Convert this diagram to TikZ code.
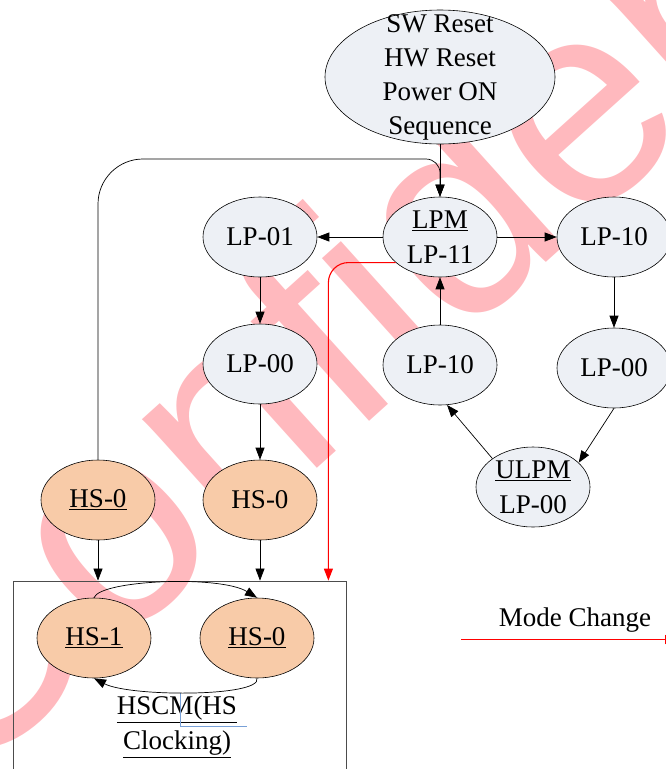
\documentclass[tikz,border=0pt]{standalone}
\usepackage{fontspec}
\setmainfont{Liberation Serif}
\newfontfamily\markfont{Liberation Sans}
\usetikzlibrary{arrows.meta,shapes.geometric,positioning}
\definecolor{StateFill}{RGB}{237,240,245}
\definecolor{HsFill}{RGB}{248,203,168}
\definecolor{MarkPink}{RGB}{255,185,190}
\definecolor{NoteBlue}{RGB}{120,160,215}
\tikzset{
  figure/.style={x=1pt,y=-1pt,font=\fontsize{27}{35}\selectfont,>={Triangle[length=12pt,width=9pt]}},
  lpstate/.style={ellipse,draw,line width=0.6pt,fill=StateFill,minimum width=114pt,minimum height=80pt,inner sep=0pt,inner ysep=-6pt,align=center},
  hsstate/.style={lpstate,fill=HsFill},
  flow/.style={->,line width=0.7pt},
  modeflow/.style={->,line width=1.1pt,draw=red,color=red},
}

\begin{document}
\begin{tikzpicture}[figure]
  \useasboundingbox (0,0) rectangle (665,769);

  % watermark
  \node[rotate=42,anchor=base west,inner sep=0pt,text=MarkPink,font=\markfont\fontsize{290}{290}\selectfont] (mark) at (-45,795) {Confidential};

  \node[lpstate,minimum width=230pt,minimum height=134pt,inner sep=-30pt,font=\fontsize{27}{34}\selectfont] (reset) at (440,77)
    {SW Reset\\HW Reset\\Power ON\\Sequence};

  \node[lpstate] (lpm) at (440,237) {\underline{LPM}\\LP-11};
  \node[lpstate] (lp01) at (260,237) {LP-01};
  \node[lpstate] (lp10r) at (614,237) {LP-10};
  \node[lpstate] (lp00l) at (260,364) {LP-00};
  \node[lpstate] (lp10m) at (440,365) {LP-10};
  \node[lpstate] (lp00r) at (614,368) {LP-00};
  \node[lpstate] (ulpm) at (533,487) {\underline{ULPM}\\LP-00};

  \node[hsstate] (hs0l) at (98,500) {\underline{HS-0}};
  \node[hsstate] (hs0m) at (260,500) {HS-0};

  \node[draw=black!70,line width=0.8pt,minimum width=333pt,minimum height=239pt,inner sep=0pt] (box) at (179.5,700.5) {};
  \node[hsstate] (hs1) at (94,638) {\underline{HS-1}};
  \node[hsstate] (hs0b) at (257,638) {\underline{HS-0}};
  \node[align=center] (hscm) at (177,727) {\underline{HSCM(HS}\\\underline{Clocking)}};
  \draw[NoteBlue,line width=0.6pt] (180,693) |- (247,726);

  \coordinate (looptop) at (300,159);
  \coordinate (modein) at ([xshift=-18pt]box.north east);

  \draw[flow] (reset) -- (lpm);
  \draw[flow] (lpm) -- (lp01);
  \draw[flow] (lpm) -- (lp10r);
  \draw[flow] (lp01) -- (lp00l);
  \draw[flow] (lp10m) -- (lpm);
  \draw[flow] (lp10r) -- (lp00r);
  \draw[flow] (lp00r.south) -- (ulpm.28);
  \draw[flow] (ulpm.145) -- (lp10m.-80);
  \draw[flow] (lp00l) -- (hs0m);
  \draw[flow] (hs0l) -- (hs0l |- box.north);
  \draw[flow] (hs0m) -- (hs0m |- box.north);
  \draw[flow] (hs0l.north) [rounded corners=45pt] |- (looptop) [rounded corners=14pt] -| (lpm.north);
  \draw[modeflow,rounded corners=20pt] (lpm.210) -| (modein);

  \draw[flow] (hs1.north) .. controls (100,580) and (220,575) .. (hs0b.north);
  \draw[flow] (hs0b.south) .. controls (262,697) and (130,697) .. (hs1.south);

  % legend
  \coordinate (legstart) at (461,639.5);
  \coordinate (legend) at (677,639.5);
  \draw[modeflow] (legstart) -- (legend);
  \node[anchor=base] (modetext) at (575,626) {Mode Change};
\end{tikzpicture}
\end{document}
